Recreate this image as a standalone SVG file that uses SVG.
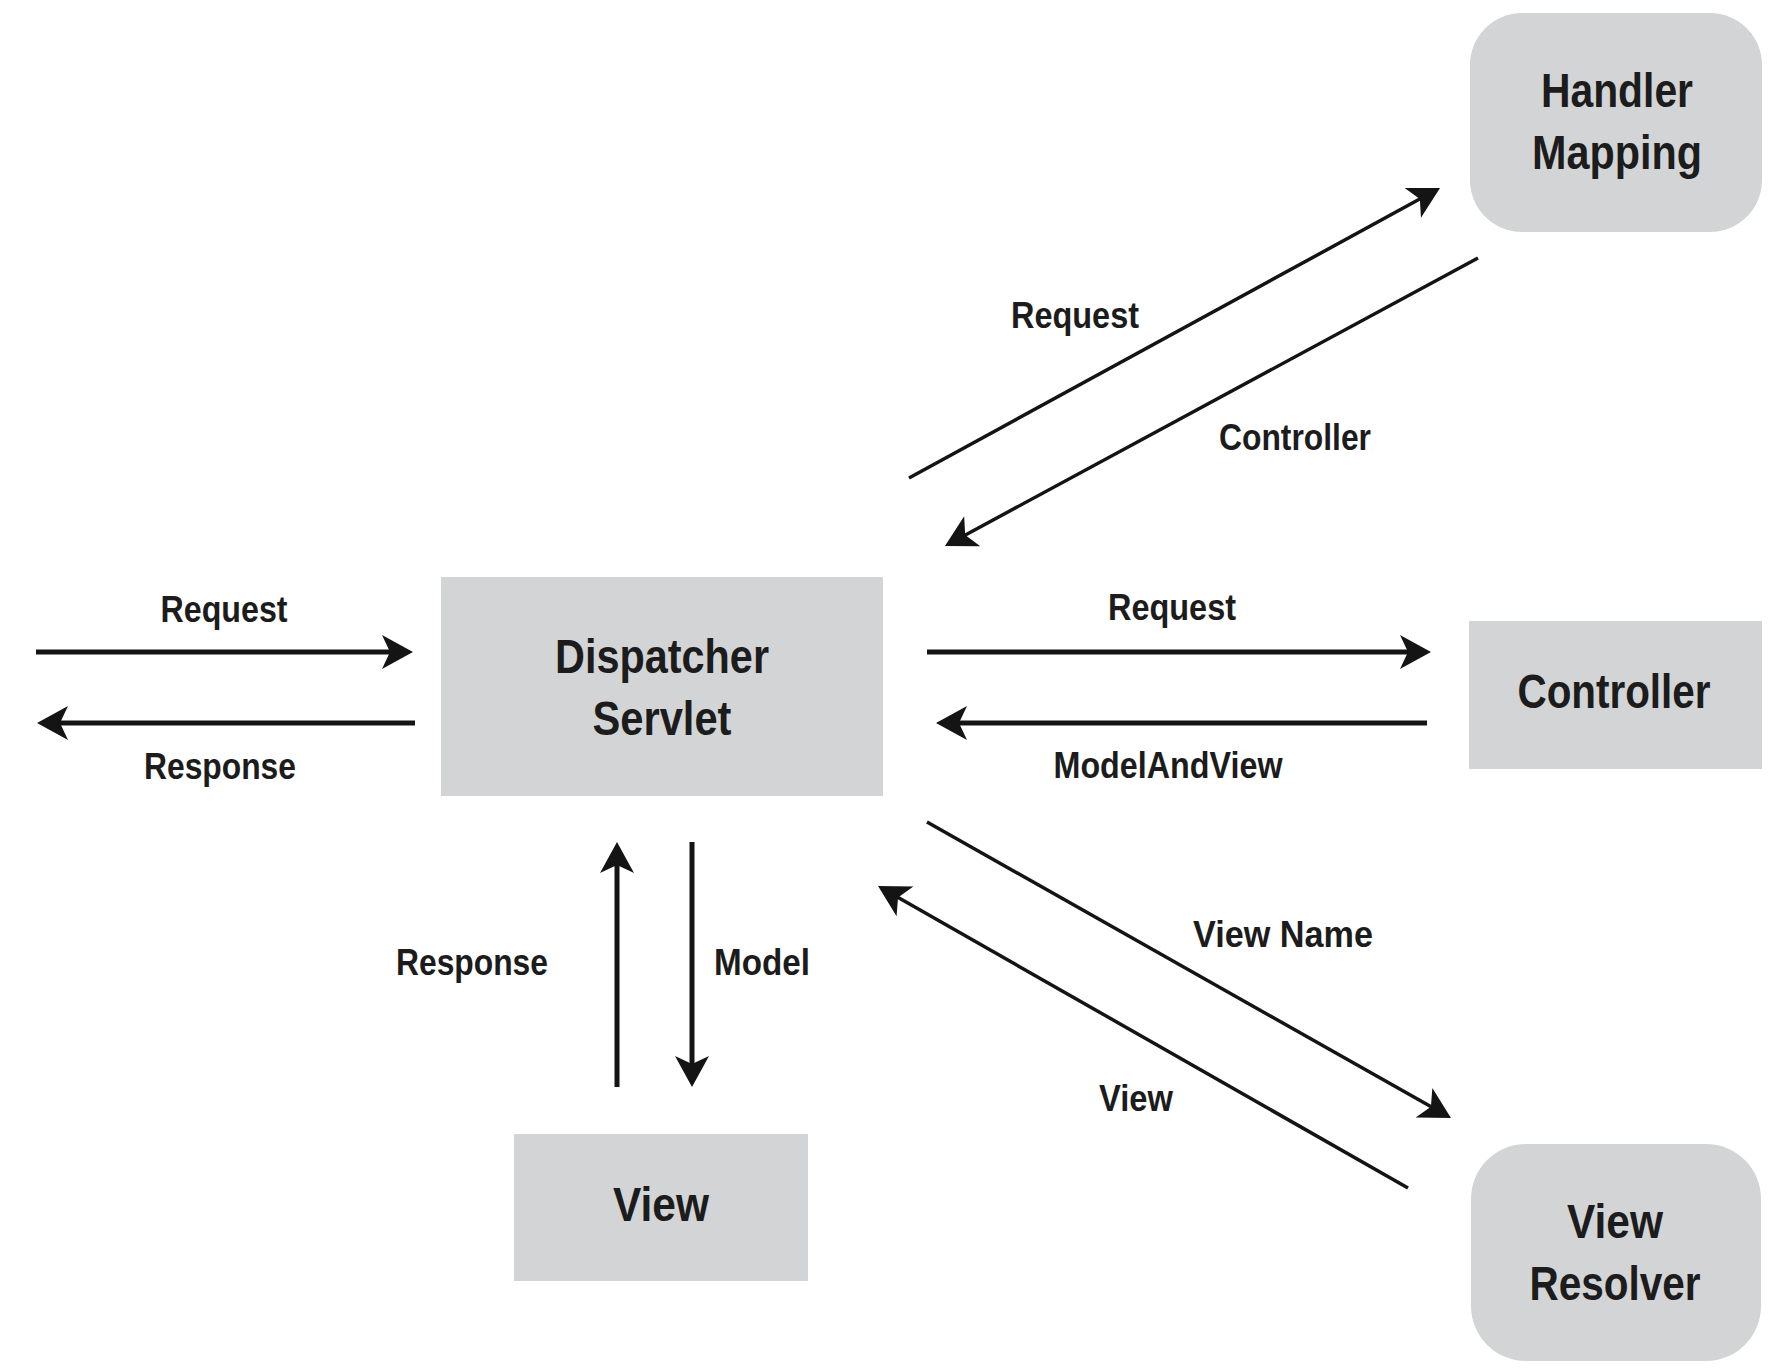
<svg xmlns="http://www.w3.org/2000/svg" width="1768" height="1368" viewBox="0 0 1768 1368">
<style>
.box{fill:#d3d4d6;}
.big{font-family:"Liberation Sans Narrow","Liberation Sans",Arial,sans-serif;font-size:48px;font-weight:bold;fill:#1c1c1c;text-anchor:middle;}
.lbl{font-family:"Liberation Sans Narrow","Liberation Sans",Arial,sans-serif;font-size:36px;font-weight:bold;fill:#1c1c1c;text-anchor:middle;}
.thick{stroke:#141414;stroke-width:5;fill:none;marker-end:url(#ah);}
.thin{stroke:#141414;stroke-width:3.5;fill:none;marker-end:url(#ah);}
</style>
<defs>
<marker id="ah" markerUnits="userSpaceOnUse" viewBox="-24 -18 34 36" refX="0" refY="0" markerWidth="34" markerHeight="36" orient="auto">
<path d="M8,0 L-23,-17 L-15,0 L-23,17 Z" fill="#141414"/>
</marker>
</defs>
<rect width="1768" height="1368" fill="#ffffff"/>
<g id="handler-mapping">
<rect class="box" x="1470" y="13" width="292" height="219" rx="52"/>
<text class="big" x="1617" y="107" textLength="152" lengthAdjust="spacingAndGlyphs">Handler</text>
<text class="big" x="1617" y="169" textLength="170" lengthAdjust="spacingAndGlyphs">Mapping</text>
</g>
<g id="dispatcher-servlet">
<rect class="box" x="441" y="577" width="442" height="219"/>
<text class="big" x="662" y="673" textLength="214" lengthAdjust="spacingAndGlyphs">Dispatcher</text>
<text class="big" x="662" y="735" textLength="139" lengthAdjust="spacingAndGlyphs">Servlet</text>
</g>
<g id="controller">
<rect class="box" x="1469" y="621" width="293" height="148"/>
<text class="big" x="1614" y="708" textLength="193" lengthAdjust="spacingAndGlyphs">Controller</text>
</g>
<g id="view">
<rect class="box" x="514" y="1134" width="294" height="147"/>
<text class="big" x="661" y="1221" textLength="96" lengthAdjust="spacingAndGlyphs">View</text>
</g>
<g id="view-resolver">
<rect class="box" x="1471" y="1144" width="290" height="217" rx="55"/>
<text class="big" x="1615" y="1238" textLength="96" lengthAdjust="spacingAndGlyphs">View</text>
<text class="big" x="1615" y="1300" textLength="171" lengthAdjust="spacingAndGlyphs">Resolver</text>
</g>
<g id="connectors">
<path class="thick" d="M36,652 L405,652"/>
<path class="thick" d="M415,723 L45,723"/>
<path class="thick" d="M927,652 L1423,652"/>
<path class="thick" d="M1427,723 L944,723"/>
<path class="thick" d="M617,1087 L617,850"/>
<path class="thick" d="M692,842 L692,1079"/>
<path class="thin" d="M909,478 L1433,191.8"/>
<path class="thin" d="M1478,258 L952,542.2"/>
<path class="thin" d="M927,822 L1444,1114.1"/>
<path class="thin" d="M1408,1188 L885,890"/>
</g>
<g id="labels">
<text class="lbl" x="224" y="622" textLength="127" lengthAdjust="spacingAndGlyphs">Request</text>
<text class="lbl" x="220" y="779" textLength="152" lengthAdjust="spacingAndGlyphs">Response</text>
<text class="lbl" x="1172" y="620" textLength="128" lengthAdjust="spacingAndGlyphs">Request</text>
<text class="lbl" x="1168" y="778" textLength="229" lengthAdjust="spacingAndGlyphs">ModelAndView</text>
<text class="lbl" x="1075" y="328" textLength="128" lengthAdjust="spacingAndGlyphs">Request</text>
<text class="lbl" x="1295" y="450" textLength="152" lengthAdjust="spacingAndGlyphs">Controller</text>
<text class="lbl" x="1283" y="947" textLength="180" lengthAdjust="spacingAndGlyphs">View Name</text>
<text class="lbl" x="1136" y="1111" textLength="74" lengthAdjust="spacingAndGlyphs">View</text>
<text class="lbl" x="472" y="975" textLength="152" lengthAdjust="spacingAndGlyphs">Response</text>
<text class="lbl" x="762" y="975" textLength="96" lengthAdjust="spacingAndGlyphs">Model</text>
</g>
</svg>
